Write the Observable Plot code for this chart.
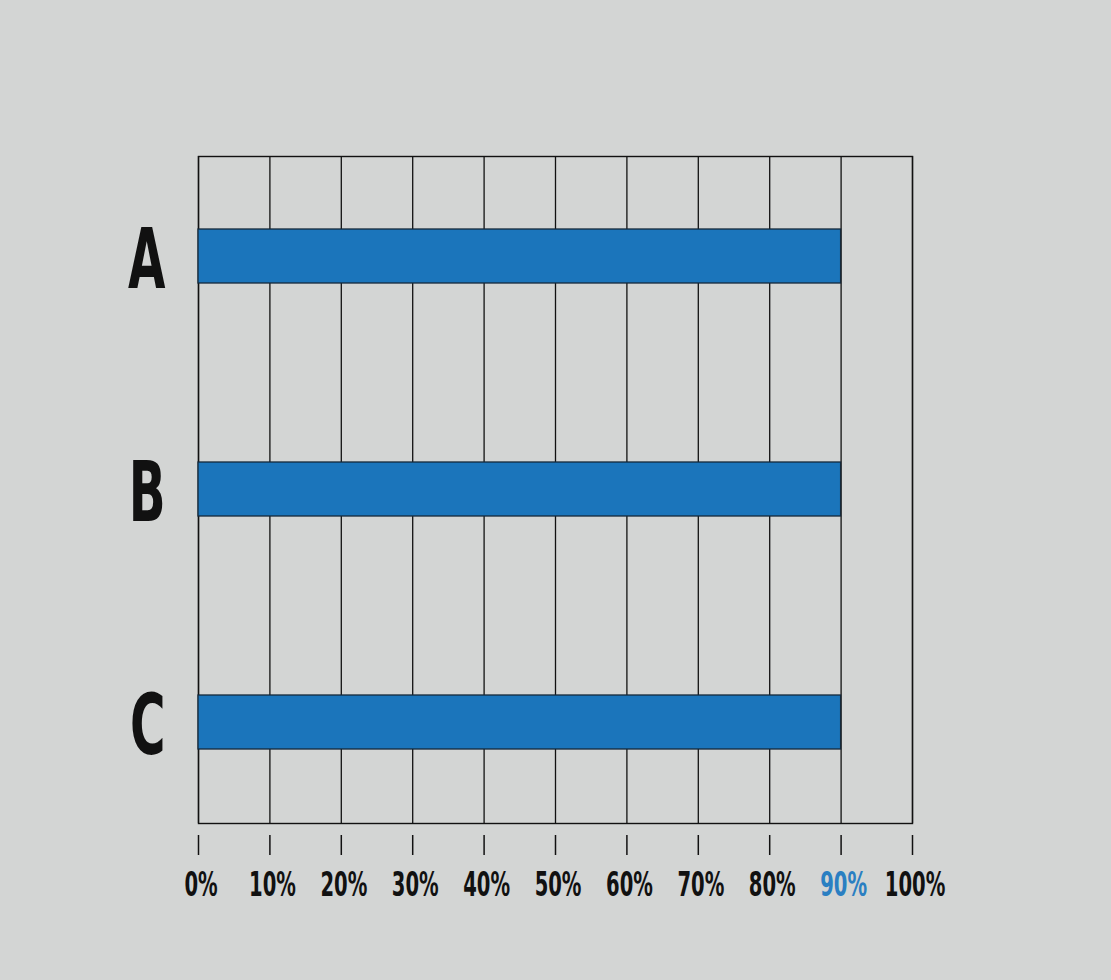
<!DOCTYPE html>
<html><head><meta charset="utf-8">
<script src="https://cdn.jsdelivr.net/npm/d3@7"></script>
<script src="https://cdn.jsdelivr.net/npm/@observablehq/plot@0.6"></script>
<style>html,body{margin:0;padding:0;background:#d3d5d4;}</style>
</head><body><div id="chart"></div>
<script>
const categories = ["A", "B", "C"];
const values = [90, 90, 90];
const ticks = [0, 10, 20, 30, 40, 50, 60, 70, 80, 90, 100];
const tickLabels = ["0%", "10%", "20%", "30%", "40%", "50%", "60%", "70%", "80%", "90%", "100%"];
const highlightLabel = "90%";

const data = categories.map((c, i) => ({category: c, value: values[i]}));
const ink = "#111111";

const chart = Plot.plot({
  width: 1111,
  height: 980,
  marginLeft: 198,
  marginRight: 199,
  marginTop: 156,
  marginBottom: 157,
  style: {background: "#d3d5d4", color: ink, fontFamily: "'DejaVu Sans Condensed', 'DejaVu Sans', sans-serif", fontWeight: "bold"},
  x: {domain: [0, 100], label: null},
  y: {domain: categories, paddingInner: 0.768, paddingOuter: 0.315, label: null},
  marks: [
    Plot.gridX(ticks, {stroke: ink, strokeOpacity: 1, strokeWidth: 1.3}),
    Plot.frame({stroke: ink, strokeWidth: 1.4}),
    Plot.barX(data, {x: "value", y: "category", fill: "#1b75bb", stroke: "#14293b", strokeWidth: 1.3}),
    Plot.axisX({ticks, label: null, tickFormat: d => tickLabels[ticks.indexOf(d)], tickSize: 20, tickPadding: 16, dy: 12, fontSize: 34, stroke: ink, strokeWidth: 1.5, fill: ink}),
    Plot.axisY({label: null, tickSize: 0, tickPadding: 33, fontSize: 84, dy: 5, fill: ink})
  ]
});

d3.select(chart).selectAll("g[aria-label='x-axis tick label'] text").attr("dx", 4);
d3.select(chart).selectAll("text").each(function() {
  const el = d3.select(this);
  const x = +el.attr("x") || 0;
  const t = el.attr("transform") || "";
  el.attr("transform", `${t} translate(${x},0) scale(0.64,1) translate(${-x},0)`);
  if (el.text() === highlightLabel) el.attr("fill", "#2a7fc2");
});

document.getElementById("chart").appendChild(chart);
</script>
</body></html>
